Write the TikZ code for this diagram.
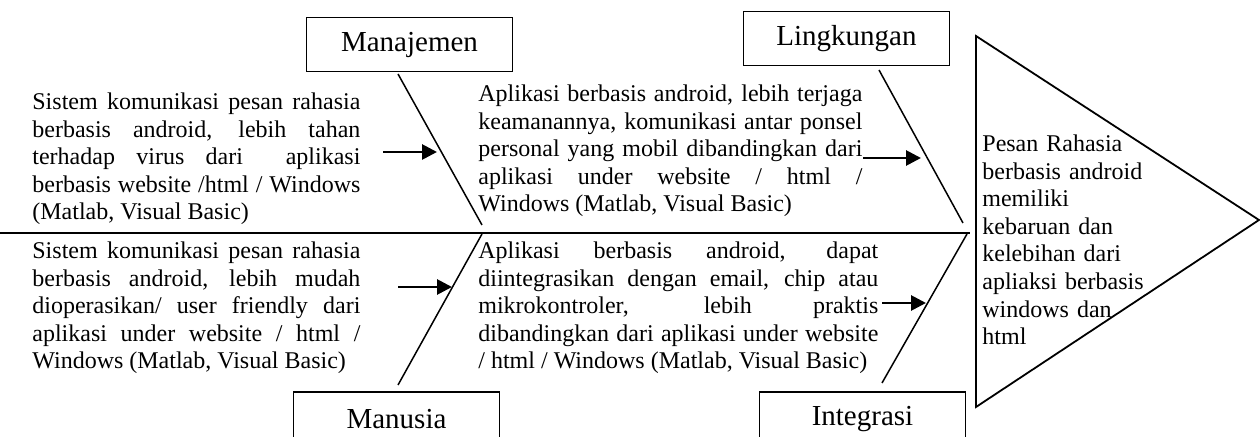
\documentclass[tikz,border=0pt]{standalone}
\usepackage{fontspec}
\setmainfont{Liberation Serif}
\usetikzlibrary{arrows.meta}
\hyphenpenalty=10000
\exhyphenpenalty=10000
\hbadness=10000
\begin{document}
\begin{tikzpicture}[x=0.5pt,y=-0.5pt,
  bodytext/.style={inner sep=0pt, anchor=north west, align=justify,
    font=\fontsize{12}{13.8}\selectfont},
  catbox/.style={draw, line width=0.9pt, inner sep=0pt, minimum width=103pt, minimum height=27pt,
    font=\fontsize{14.5}{16}\selectfont},
  bone/.style={line width=0.75pt},
  spine/.style={line width=1pt},
  push/.style={line width=1.4pt, -{Triangle[length=7.5pt,width=7.5pt]}}]
\clip (0,0) rectangle (1260,437);

% category boxes
\node[catbox] (man) at (409.5,44.5) {Manajemen};
\node[catbox] (lin) at (846.5,38.5) {Lingkungan};
\node[catbox] (mns) at (396.5,419) {Manusia};
\node[catbox] (int) at (862.5,419) {Integrasi};

% bone end points
\coordinate (manT) at (398,74);
\coordinate (manB) at (482,225);
\coordinate (linT) at (879,70);
\coordinate (linB) at (963,223);
\coordinate (mnsT) at (482,234);
\coordinate (mnsB) at (398,385);
\coordinate (intT) at (967,234);
\coordinate (intB) at (882,383);
\coordinate (spL) at (0,233);
\coordinate (spR) at (970,233);

\draw[spine] (spL) -- (spR);
\draw[bone] (manT) -- (manB);
\draw[bone] (linT) -- (linB);
\draw[bone] (mnsT) -- (mnsB);
\draw[bone] (intT) -- (intB);

% effect triangle
\coordinate (triA) at (976,36);
\coordinate (triB) at (1259,220);
\coordinate (triC) at (976,407);
\draw[line width=0.9pt, line join=miter] (triA) -- (triB) -- (triC) -- cycle;

% text blocks
\node[bodytext, text width=164pt] (t1) at (32,89.7) {\strut Sistem komunikasi pesan rahasia\linebreak berbasis android, lebih tahan\linebreak terhadap virus dari\ \ aplikasi\linebreak berbasis website /html / Windows\linebreak (Matlab, Visual Basic)};
\node[bodytext, text width=192pt] (t2) at (478,81.7) {\strut Aplikasi berbasis android, lebih terjaga\linebreak keamanannya, komunikasi antar ponsel\linebreak personal yang mobil dibandingkan dari\linebreak aplikasi under website / html /\linebreak Windows (Matlab, Visual Basic)};
\node[bodytext, text width=164pt] (t3) at (32,238.7) {\strut Sistem komunikasi pesan rahasia\linebreak berbasis android, lebih mudah\linebreak dioperasikan/ user friendly dari\linebreak aplikasi under website / html /\linebreak Windows (Matlab, Visual Basic)};
\node[bodytext, text width=200pt] (t4) at (478,238.7) {\strut Aplikasi berbasis android, dapat\linebreak diintegrasikan dengan email, chip atau\linebreak mikrokontroler, lebih praktis\linebreak dibandingkan dari aplikasi under website\linebreak / html / Windows (Matlab, Visual Basic)};
\node[bodytext, text width=86pt, align=left] (eff) at (982,131.7) {\strut Pesan Rahasia\\ berbasis android\\ memiliki\\ kebaruan dan\\ kelebihan dari\\ apliaksi berbasis\\ windows dan\\ html};

% arrows
\coordinate (a1s) at (383,152);
\coordinate (a1e) at (437,152);
\coordinate (a2s) at (863,158);
\coordinate (a2e) at (921,158);
\coordinate (a3s) at (398,287);
\coordinate (a3e) at (452,287);
\coordinate (a4s) at (882,303);
\coordinate (a4e) at (926,303);
\draw[push] (a1s) -- (a1e);
\draw[push] (a2s) -- (a2e);
\draw[push] (a3s) -- (a3e);
\draw[push] (a4s) -- (a4e);
\end{tikzpicture}
\end{document}
